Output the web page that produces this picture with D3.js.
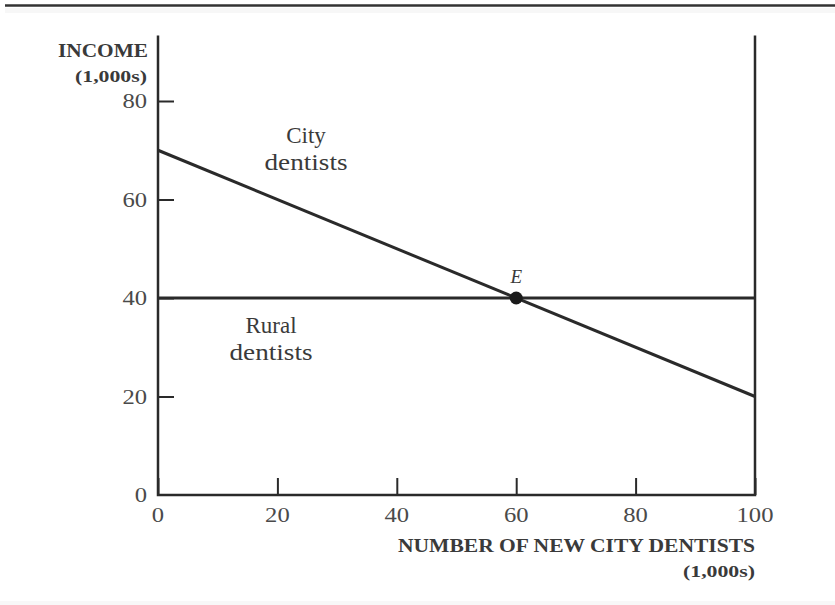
<!DOCTYPE html>
<html><head><meta charset="utf-8">
<script src="https://cdn.jsdelivr.net/npm/d3@7/dist/d3.min.js"></script>
<style>body{margin:0;background:#fff}svg{display:block}text{font-family:"Liberation Serif","DejaVu Serif",serif}</style>
</head><body>
<script>
const xTicks = [0, 20, 40, 60, 80, 100];
const yTicks = [0, 20, 40, 60, 80];
const cityX = [0, 100];
const cityY = [70, 20];
const ruralX = [0, 100];
const ruralY = [40, 40];
const equilibrium = {x: 60, y: 40, label: "E"};
const xDomain = [0, 100];
const yDomain = [0, 80];
const yTop = 93.3;

const W = 835, H = 605;
const svg = d3.select("body").append("svg").attr("width", W).attr("height", H);
const x = d3.scaleLinear().domain(xDomain).range([158, 755]);
const y = d3.scaleLinear().domain(yDomain).range([495, 101]);
const ink = "#2a2a2a", txt = "#3a3a3a", tickTxt = "#4a4a4a";

// top rule
svg.append("line").attr("x1", 5).attr("x2", W).attr("y1", 5.5).attr("y2", 5.5)
  .attr("stroke", "#333").attr("stroke-width", 2.5);
svg.append("rect").attr("x", 5).attr("y", 8).attr("width", W).attr("height", 5).attr("fill", "#f7f7f7");
svg.append("rect").attr("x", 0).attr("y", 601).attr("width", W).attr("height", 4).attr("fill", "#f8f8f8");

// axes
const yAxis = d3.axisRight(y).tickValues(yTicks.filter(d => d > 0)).tickSize(16).tickFormat("");
const gy = svg.append("g").attr("transform", `translate(${x(0)},0)`).call(yAxis);
gy.select(".domain").remove();
gy.selectAll("line").attr("stroke", ink).attr("stroke-width", 2);

const xAxis = d3.axisTop(x).tickValues(xTicks).tickSize(17).tickFormat("");
const gx = svg.append("g").attr("transform", `translate(0,${y(0)})`).call(xAxis);
gx.select(".domain").remove();
gx.selectAll("line").attr("stroke", ink).attr("stroke-width", 2);

// axis lines
svg.append("path").attr("d", `M${x(0)},${y(yTop)}V${y(0)}H${x(100)}V${y(yTop)}`)
  .attr("fill", "none").attr("stroke", ink).attr("stroke-width", 2.5);

// tick labels
const digitW = 12.3;
svg.selectAll(".yl").data(yTicks).enter().append("text")
  .attr("x", 147).attr("y", d => y(d) + 7).attr("text-anchor", "end")
  .attr("font-size", 20).attr("fill", tickTxt)
  .attr("textLength", d => String(d).length * digitW).attr("lengthAdjust", "spacingAndGlyphs")
  .text(d => d);
svg.selectAll(".xl").data(xTicks).enter().append("text")
  .attr("x", d => x(d)).attr("y", 522).attr("text-anchor", "middle")
  .attr("font-size", 20).attr("fill", tickTxt)
  .attr("textLength", d => String(d).length * digitW).attr("lengthAdjust", "spacingAndGlyphs")
  .text(d => d);

// axis titles
function title(t, xe, yb, size, len) {
  svg.append("text").attr("x", xe).attr("y", yb).attr("text-anchor", "end")
    .attr("font-size", size).attr("font-weight", "bold").attr("fill", txt)
    .attr("textLength", len).attr("lengthAdjust", "spacingAndGlyphs").text(t);
}
title("INCOME", 148, 57, 19, 90);
title("(1,000s)", 147, 82, 17, 72);
title("NUMBER OF NEW CITY DENTISTS", 755, 552, 19, 357);
title("(1,000s)", 755, 577, 17, 72);

// lines
const line = d3.line().x(d => x(d[0])).y(d => y(d[1]));
svg.append("path").attr("d", line(d3.zip(ruralX, ruralY)))
  .attr("fill", "none").attr("stroke", ink).attr("stroke-width", 3);
svg.append("path").attr("d", line(d3.zip(cityX, cityY)))
  .attr("fill", "none").attr("stroke", ink).attr("stroke-width", 3);

// equilibrium
svg.append("circle").attr("cx", x(equilibrium.x)).attr("cy", y(equilibrium.y)).attr("r", 6.5).attr("fill", "#1a1a1a");
svg.append("text").attr("x", x(equilibrium.x)).attr("y", y(equilibrium.y) - 15).attr("text-anchor", "middle")
  .attr("font-size", 19).attr("font-style", "italic").attr("fill", txt).text(equilibrium.label);

// curve labels
function label(lines, cx, y0) {
  lines.forEach((t, i) => {
    const el = svg.append("text").attr("x", cx).attr("y", y0 + i * 27)
      .attr("text-anchor", "middle").attr("font-size", 23).attr("fill", txt).text(t);
    if (t === "dentists") el.attr("textLength", 83).attr("lengthAdjust", "spacingAndGlyphs");
  });
}
label(["City", "dentists"], 306, 143);
label(["Rural", "dentists"], 271, 333);
</script>
</body></html>
